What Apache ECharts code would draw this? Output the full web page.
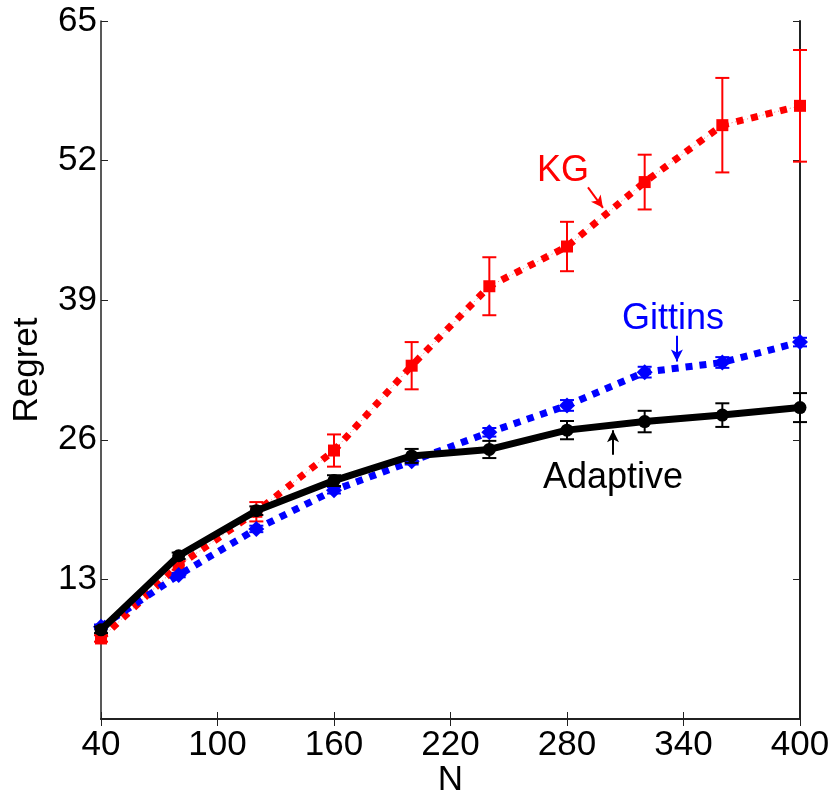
<!DOCTYPE html>
<html>
<head>
<meta charset="utf-8">
<script src="https://cdn.jsdelivr.net/npm/echarts@6/dist/echarts.min.js"></script>
<style>
  html, body { margin: 0; padding: 0; background: #fff; }
  #chart { width: 833px; height: 793px; }
</style>
</head>
<body>
<div id="chart"></div>
<script>
// x values (N)
var nValues = [40, 80, 120, 160, 200, 240, 280, 320, 360, 400];

// mean regret
var adaptive = [8.3, 15.2, 19.4, 22.2, 24.5, 25.1, 26.9, 27.7, 28.3, 29.0];
var gittins  = [8.6, 13.4, 17.7, 21.3, 24.0, 26.7, 29.2, 32.3, 33.2, 35.1];
var kg       = [7.5, 14.3, 19.3, 25.0, 32.9, 40.3, 44.0, 50.0, 55.3, 57.1];

// half-width of error bars
var adaptiveErr = [0.3, 0.3, 0.4, 0.5, 0.65, 0.8, 0.85, 1.0, 1.1, 1.35];
var gittinsErr  = [0.2, 0.2, 0.3, 0.3, 0.3, 0.4, 0.5, 0.5, 0.5, 0.4];
var kgErr       = [0.3, 0.4, 0.9, 1.5, 2.2, 2.7, 2.3, 2.55, 4.4, 5.2];

var fontFam = '"Liberation Sans", Arial, Helvetica, sans-serif';

function pairs(ys) {
    return nValues.map(function (x, i) { return [x, ys[i]]; });
}
function errData(ys, es) {
    return nValues.map(function (x, i) { return [x, ys[i] - es[i], ys[i] + es[i]]; });
}

// error bar drawing
function errorBarSeries(ys, es, color, z) {
    return {
        type: 'custom',
        data: errData(ys, es),
        z: z,
        silent: true,
        renderItem: function (params, api) {
            var x = api.value(0);
            var lo = api.coord([x, api.value(1)]);
            var hi = api.coord([x, api.value(2)]);
            var cap = 7;
            var st = { stroke: color, lineWidth: 2 };
            return {
                type: 'group',
                children: [
                    { type: 'line', shape: { x1: lo[0], y1: lo[1], x2: hi[0], y2: hi[1] }, style: st },
                    { type: 'line', shape: { x1: lo[0] - cap, y1: lo[1], x2: lo[0] + cap, y2: lo[1] }, style: st },
                    { type: 'line', shape: { x1: hi[0] - cap, y1: hi[1], x2: hi[0] + cap, y2: hi[1] }, style: st }
                ]
            };
        }
    };
}

function annotation(text, color, at, from, to) {
    return {
        type: 'line',
        data: [],
        z: 10,
        silent: true,
        markPoint: {
            symbol: 'circle',
            symbolSize: 0,
            label: { show: true, position: 'inside', formatter: text, color: color, fontSize: 36, fontFamily: fontFam },
            data: [{ coord: at }]
        },
        markLine: {
            silent: true,
            symbol: ['none', 'arrow'],
            symbolSize: [9, 12],
            label: { show: false },
            lineStyle: { color: color, width: 2, type: 'solid' },
            data: [[{ coord: from }, { coord: to }]]
        }
    };
}

var myChart = echarts.init(document.getElementById('chart'));

var option = {
    animation: false,
    backgroundColor: '#ffffff',
    grid: {
        left: 101,
        right: 33,
        top: 21,
        bottom: 74,
        outerBoundsMode: 'none',
        containLabel: false
    },
    xAxis: [
        {
            type: 'value',
            min: 40,
            max: 400,
            interval: 60,
            name: 'N',
            nameLocation: 'middle',
            nameGap: 44,
            nameMoveOverlap: false,
            nameTextStyle: { color: '#000', fontSize: 35, fontFamily: fontFam },
            axisLine: { show: true, lineStyle: { color: '#222', width: 2 } },
            axisTick: { show: true, inside: true, length: 7, lineStyle: { color: '#222', width: 1 } },
            axisLabel: { color: '#000', fontSize: 35, fontFamily: fontFam, margin: 9 },
            splitLine: { show: false }
        },
        {
            type: 'value',
            position: 'top',
            min: 40,
            max: 400,
            interval: 60,
            axisLine: { show: true, lineStyle: { color: '#222', width: 1.5 } },
            axisTick: { show: true, inside: true, length: 7, lineStyle: { color: '#222', width: 1 } },
            axisLabel: { show: false },
            splitLine: { show: false }
        }
    ],
    yAxis: [
        {
            type: 'value',
            min: 0,
            max: 65,
            interval: 13,
            name: 'Regret',
            nameLocation: 'middle',
            nameGap: 56,
            nameMoveOverlap: false,
            nameTextStyle: { color: '#000', fontSize: 35, fontFamily: fontFam },
            axisLine: { show: true, lineStyle: { color: '#222', width: 1.5 } },
            axisTick: { show: true, inside: true, length: 7, lineStyle: { color: '#222', width: 1 } },
            axisLabel: {
                color: '#000', fontSize: 35, fontFamily: fontFam, margin: 4,
                formatter: function (v) { return v === 0 ? '' : v; }
            },
            splitLine: { show: false }
        },
        {
            type: 'value',
            position: 'right',
            min: 0,
            max: 65,
            interval: 13,
            axisLine: { show: true, lineStyle: { color: '#222', width: 2 } },
            axisTick: { show: true, inside: true, length: 7, lineStyle: { color: '#222', width: 1 } },
            axisLabel: { show: false },
            splitLine: { show: false }
        }
    ],
    series: [
        errorBarSeries(kg, kgErr, '#ff0000', 2),
        {
            name: 'KG',
            type: 'line',
            data: pairs(kg),
            z: 3,
            symbol: 'rect',
            symbolSize: 12,
            itemStyle: { color: '#ff0000' },
            lineStyle: { color: '#ff0000', width: 7, type: [7, 8], cap: 'butt' }
        },
        {
            // thin dash part of the dash-dot line
            type: 'line',
            data: pairs(kg),
            z: 2,
            silent: true,
            showSymbol: false,
            lineStyle: { color: '#ff6666', width: 1, type: [1, 3] }
        },
        errorBarSeries(gittins, gittinsErr, '#0000ff', 4),
        {
            name: 'Gittins',
            type: 'line',
            data: pairs(gittins),
            z: 5,
            symbol: 'diamond',
            symbolSize: 16,
            itemStyle: { color: '#0000ff' },
            lineStyle: { color: '#0000ff', width: 7, type: [7, 7], cap: 'butt' }
        },
        errorBarSeries(adaptive, adaptiveErr, '#000000', 6),
        {
            name: 'Adaptive',
            type: 'line',
            data: pairs(adaptive),
            z: 7,
            symbol: 'circle',
            symbolSize: 13,
            itemStyle: { color: '#000000' },
            lineStyle: { color: '#000000', width: 7 }
        },
        annotation('KG', '#ff0000', [278, 51.0], [290.8, 49.5], [298.5, 47.6]),
        annotation('Gittins', '#0000ff', [334.6, 37.2], [336.6, 35.7], [336.6, 33.3]),
        annotation('Adaptive', '#000000', [303.7, 22.4], [303.7, 24.6], [303.7, 26.9])
    ]
};

myChart.setOption(option);
</script>
</body>
</html>
